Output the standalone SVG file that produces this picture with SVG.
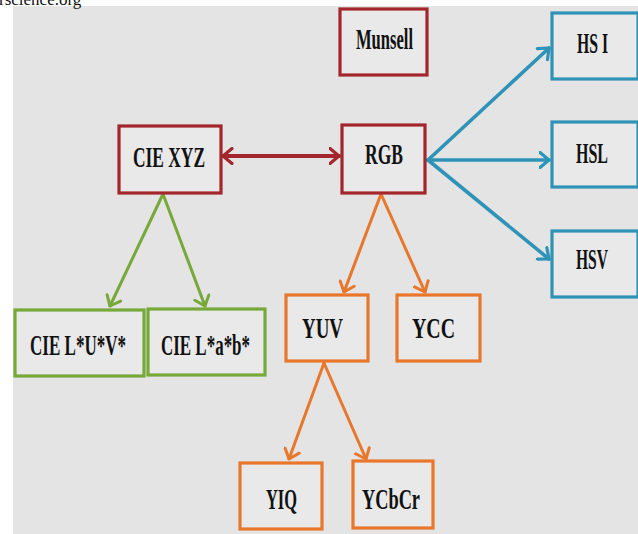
<svg xmlns="http://www.w3.org/2000/svg" width="638" height="534" viewBox="0 0 638 534">
<defs>
<style>
.bx{fill:#e9e9e9;stroke-width:3.2}
.red{stroke:#a3262c}.blu{stroke:#2f93b8}.org{stroke:#e8772b}.grn{stroke:#77a83a}
.t{font-family:"Liberation Serif","Times New Roman",serif;font-size:29px;font-weight:bold;fill:#111;}
.c{fill:none;stroke-linecap:round}
</style>
<marker id="mR" viewBox="0 0 12 18" refX="10.5" refY="9" markerWidth="12" markerHeight="18" markerUnits="userSpaceOnUse" orient="auto-start-reverse"><path d="M1.5,1.5 L10.5,9 L1.5,16.5" fill="none" stroke="#a3262c" stroke-width="3.2" stroke-linecap="round" stroke-linejoin="round"/></marker>
<marker id="mB" viewBox="0 0 12 18" refX="10.5" refY="9" markerWidth="12" markerHeight="18" markerUnits="userSpaceOnUse" orient="auto"><path d="M1.5,1.5 L10.5,9 L1.5,16.5" fill="none" stroke="#2f93b8" stroke-width="3.2" stroke-linecap="round" stroke-linejoin="round"/></marker>
<marker id="mO" viewBox="0 0 12 18" refX="10.5" refY="9" markerWidth="12" markerHeight="18" markerUnits="userSpaceOnUse" orient="auto"><path d="M1.5,1.5 L10.5,9 L1.5,16.5" fill="none" stroke="#e8772b" stroke-width="3" stroke-linecap="round" stroke-linejoin="round"/></marker>
<marker id="mG" viewBox="0 0 12 18" refX="10.5" refY="9" markerWidth="12" markerHeight="18" markerUnits="userSpaceOnUse" orient="auto"><path d="M1.5,1.5 L10.5,9 L1.5,16.5" fill="none" stroke="#77a83a" stroke-width="3" stroke-linecap="round" stroke-linejoin="round"/></marker>
</defs>
<rect x="0" y="0" width="638" height="534" fill="#ffffff"/>
<rect x="13" y="6" width="625" height="528" fill="#e4e4e4"/>
<text x="-1" y="5" font-family="Liberation Serif,serif" font-size="17" fill="#111">rscience.org</text>
<g id="connectors">
<line class="c red" x1="223" y1="156" x2="339" y2="156" stroke-width="4" marker-start="url(#mR)" marker-end="url(#mR)"/>
<line class="c blu" x1="428" y1="160" x2="549" y2="48" stroke-width="3.6" marker-end="url(#mB)"/>
<line class="c blu" x1="428" y1="160" x2="549" y2="160" stroke-width="3.6" marker-end="url(#mB)"/>
<line class="c blu" x1="428" y1="160" x2="549" y2="259" stroke-width="3.6" marker-end="url(#mB)"/>
<line class="c grn" x1="163" y1="194" x2="110" y2="306" stroke-width="3" marker-end="url(#mG)"/>
<line class="c grn" x1="163" y1="194" x2="205" y2="306" stroke-width="3" marker-end="url(#mG)"/>
<line class="c org" x1="381" y1="194" x2="344" y2="292" stroke-width="3" marker-end="url(#mO)"/>
<line class="c org" x1="381" y1="194" x2="425" y2="292" stroke-width="3" marker-end="url(#mO)"/>
<line class="c org" x1="324" y1="363" x2="289" y2="459" stroke-width="3" marker-end="url(#mO)"/>
<line class="c org" x1="324" y1="363" x2="366" y2="459" stroke-width="3" marker-end="url(#mO)"/>
</g>
<g id="munsell"><rect class="bx red" x="340" y="9" width="87" height="66"/><text class="t" x="356" y="49" textLength="57" lengthAdjust="spacingAndGlyphs">Munsell</text></g>
<g id="ciexyz"><rect class="bx red" x="119" y="126" width="102" height="67"/><text class="t" x="133" y="167" textLength="72" lengthAdjust="spacingAndGlyphs">CIE XYZ</text></g>
<g id="rgb"><rect class="bx red" x="342" y="125" width="83" height="68"/><text class="t" x="365" y="164" textLength="38" lengthAdjust="spacingAndGlyphs">RGB</text></g>
<g id="hsi"><rect class="bx blu" x="552" y="13" width="86" height="66"/><text class="t" x="577" y="53" textLength="31" lengthAdjust="spacingAndGlyphs">HS I</text></g>
<g id="hsl"><rect class="bx blu" x="552" y="122" width="86" height="65"/><text class="t" x="576" y="163" textLength="32" lengthAdjust="spacingAndGlyphs">HSL</text></g>
<g id="hsv"><rect class="bx blu" x="552" y="231" width="86" height="66"/><text class="t" x="576" y="269" textLength="32" lengthAdjust="spacingAndGlyphs">HSV</text></g>
<g id="cieluv"><rect class="bx grn" x="15" y="310" width="129" height="66"/><text class="t" x="30" y="355" textLength="96" lengthAdjust="spacingAndGlyphs">CIE L*U*V*</text></g>
<g id="cielab"><rect class="bx grn" x="148" y="309" width="117" height="66"/><text class="t" x="161" y="355" textLength="89" lengthAdjust="spacingAndGlyphs">CIE L*a*b*</text></g>
<g id="yuv"><rect class="bx org" x="286" y="295" width="82" height="66"/><text class="t" x="302" y="338" textLength="41" lengthAdjust="spacingAndGlyphs">YUV</text></g>
<g id="ycc"><rect class="bx org" x="397" y="295" width="83" height="66"/><text class="t" x="412" y="338" textLength="43" lengthAdjust="spacingAndGlyphs">YCC</text></g>
<g id="yiq"><rect class="bx org" x="240" y="463" width="82" height="66"/><text class="t" x="266" y="509" textLength="31" lengthAdjust="spacingAndGlyphs">YIQ</text></g>
<g id="ycbcr"><rect class="bx org" x="353" y="461" width="80" height="67"/><text class="t" x="362" y="509" textLength="58" lengthAdjust="spacingAndGlyphs">YCbCr</text></g>
</svg>
